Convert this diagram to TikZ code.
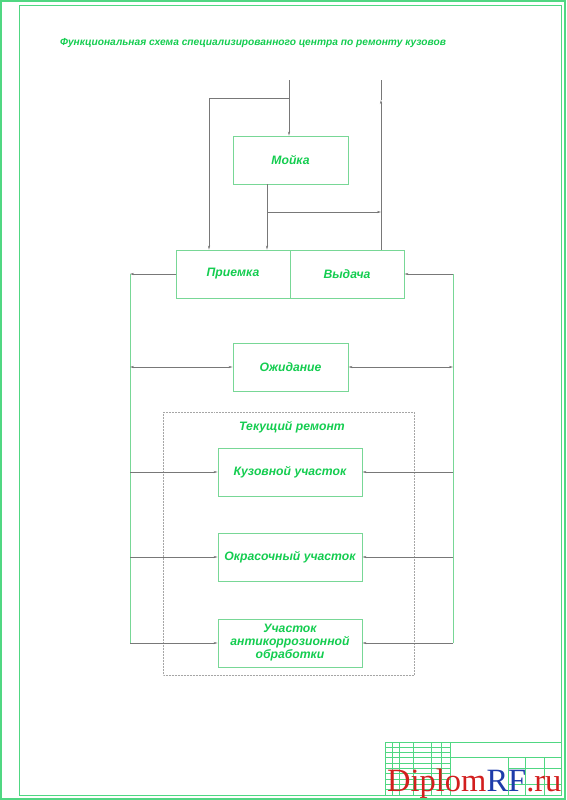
\documentclass[tikz,border=0pt]{standalone}
\usepackage{fontspec}
\setmainfont{Liberation Sans}
\newfontfamily\wmfont{Liberation Serif}
\usetikzlibrary{arrows.meta,positioning}
\definecolor{txtgreen}{RGB}{20,205,80}
\definecolor{boxgreen}{RGB}{120,215,150}
\definecolor{framegreen}{RGB}{80,215,130}
\definecolor{linegray}{RGB}{120,120,120}
\definecolor{wmred}{RGB}{210,30,30}
\definecolor{wmblue}{RGB}{30,60,170}
\begin{document}
\begin{tikzpicture}[x=1pt,y=-1pt,
  blk/.style={draw=boxgreen,line width=0.8pt,minimum height=48pt,inner sep=0pt,
    font=\fontsize{12.2}{13}\selectfont\bfseries\itshape,text=txtgreen,align=center},
  conn/.style={draw=linegray,line width=0.5pt},
  side/.style={draw=boxgreen,line width=1pt},
  tip/.style={-{Stealth[length=4pt,width=2.2pt]}},
  tipb/.style={{Stealth[length=4pt,width=2.2pt]}-{Stealth[length=4pt,width=2.2pt]}},
  tb/.style={draw=framegreen,line width=0.5pt}]
\useasboundingbox (0,0) rectangle (566,800);
\fill[white] (0,0) rectangle (566,800);
% frames
\draw[framegreen,line width=1.6pt] (1,1) rectangle (565,799);
\draw[framegreen,line width=0.9pt] (19,5) rectangle (561,795);
% title
\node[text=txtgreen,font=\fontsize{10.2}{13}\selectfont\bfseries\itshape] (title) at (253,43)
  {Функциональная схема специализированного центра по ремонту кузовов};
% blocks
\node[blk,minimum width=115pt] (moika) at (290.5,160) {Мойка};
\node[blk,minimum width=114pt] (priem) at (233,274) {Приемка};
\node[blk,minimum width=114pt] (vyd) at (347,274) {Выдача};
\node[blk,minimum width=115pt] (ozh) at (290.5,367) {Ожидание};
\draw[densely dotted,draw=gray!70,line width=0.5pt] (163,412) rectangle (414,675);
\node[text=txtgreen,font=\fontsize{12.2}{13}\selectfont\bfseries\itshape] (tek) at (292,427) {Текущий ремонт};
\node[blk,minimum width=144pt] (kuz) at (290,472) {Кузовной участок};
\node[blk,minimum width=144pt] (okr) at (290,557) {Окрасочный участок};
\node[blk,minimum width=144pt] (anti) at (290,643) {Участок\\антикоррозионной\\обработки};
% coordinates
\coordinate (inT) at (289,80);
\coordinate (inB) at (289,98);
\coordinate (inL) at (209,98);
\coordinate (outT) at (381,80);
\coordinate (outM) at (381,100);
\coordinate (mB) at (267,212);
\coordinate (mR) at (381,212);
\coordinate (L1) at (130,274);
\coordinate (L2) at (130,367);
\coordinate (L3) at (130,472);
\coordinate (L4) at (130,557);
\coordinate (L5) at (130,643);
\coordinate (R1) at (453,274);
\coordinate (R2) at (453,367);
\coordinate (R3) at (453,472);
\coordinate (R4) at (453,557);
\coordinate (R5) at (453,643);
% top connectors
\draw[conn,tip] (inT) -- (moika.north -| inT);
\draw[conn,tip] (inB) -- (inL) -- (inL |- priem.north);
\draw[conn] (moika.south -| mB) -- (mB);
\draw[conn,tip] (mB) -- (mB |- priem.north);
\draw[conn,tip] (mB) -- (mR);
\draw[conn,tip] (vyd.north -| outM) -- (outM);
\draw[conn] (outM) -- (outT);
% side connectors
\draw[conn,tip] (priem.west) -- (L1);
\draw[conn,tip] (R1) -- (vyd.east);
\draw[side] (L1) -- (L5);
\draw[side] (R1) -- (R5);
\draw[conn,tipb] (L2) -- (ozh.west);
\draw[conn,tipb] (ozh.east) -- (R2);
\draw[conn,tip] (L3) -- (kuz.west);
\draw[conn,tip] (R3) -- (kuz.east);
\draw[conn,tip] (L4) -- (okr.west);
\draw[conn,tip] (R4) -- (okr.east);
\draw[conn,tip] (L5) -- (anti.west);
\draw[conn,tip] (R5) -- (anti.east);
% title block
\draw[tb] (385,742) rectangle (561,795);
\foreach \xx in {392,399,413,431,441,450} \draw[tb] (\xx,742) -- (\xx,795);
\foreach \yy in {747,752,757,763,768,773,779,784,789} \draw[tb] (385,\yy) -- (450,\yy);
\draw[tb] (450,757) -- (561,757);
\foreach \xx in {508,525,544} \draw[tb] (\xx,757) -- (\xx,795);
\foreach \yy in {768,784} \draw[tb] (508,\yy) -- (561,\yy);
% watermark
\node[anchor=base west,inner sep=0pt,font=\wmfont\fontsize{32.5}{33}\selectfont] (wm) at (387,791)
  {\textcolor{wmred}{Diplom}\textcolor{wmblue}{RF}\textcolor{wmred}{.ru}};
\end{tikzpicture}
\end{document}
